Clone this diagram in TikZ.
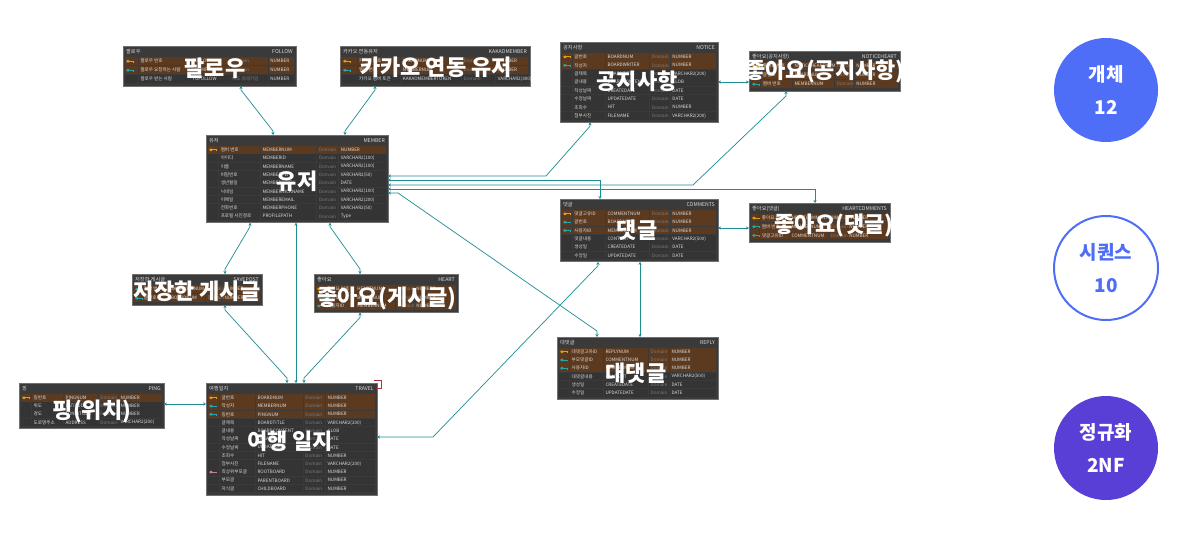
\documentclass[tikz,border=0pt]{standalone}
\usepackage{fontspec}
\setmainfont{Noto Sans CJK KR}
\usetikzlibrary{arrows.meta,calc}

\definecolor{tblbg}{HTML}{3A3A3A}
\definecolor{tblline}{HTML}{707070}
\definecolor{plainrow}{HTML}{343434}
\definecolor{keyrow}{HTML}{5C3A20}
\definecolor{celltxt}{HTML}{DADADA}
\definecolor{domtxt}{HTML}{7C7C7C}
\definecolor{goldkey}{HTML}{D9A31A}
\definecolor{fkkey}{HTML}{22A7B0}
\definecolor{pinkkey}{HTML}{C77FA0}
\definecolor{relteal}{HTML}{1E8C93}
\definecolor{selfred}{HTML}{B03040}
\definecolor{blueA}{HTML}{4F6EF7}
\definecolor{purpleA}{HTML}{5A3FD6}

\tikzset{
  tbl/.style={draw=tblline, fill=tblbg, line width=.8pt, inner sep=0pt, outer sep=0pt, rectangle},
  hdrtxt/.style={text=celltxt, font=\fontsize{5.2}{6}\selectfont, inner sep=0pt},
  celltext/.style={text=celltxt, font=\fontsize{4.6}{5}\selectfont, inner sep=0pt},
  domtext/.style={text=domtxt, font=\fontsize{4.6}{5}\selectfont\itshape, inner sep=0pt},
  biglbl/.style={text=white, font=\fontsize{22}{24}\selectfont\bfseries, inner sep=0pt},
  rel/.style={draw=relteal, line width=.7pt,
    {Stealth[length=3pt,width=3.2pt]}-{Stealth[length=3pt,width=3.2pt]}},
  badge/.style={circle, minimum size=104pt, inner sep=0pt},
  badgetxt/.style={align=center, font=\fontsize{19}{33}\selectfont\bfseries, inner sep=0pt}
}

% column positions as fractions of the table width
\def\ck{.09}\def\cc{.3}\def\cd{.58}\def\ct{.71}

% small key glyph in front of key columns
\newcommand{\keyicon}[1]{%
  \fill[#1] (5,\ym) ellipse (1.9 and 1.5);
  \draw[#1, line width=1pt] (6,\ym) -- (10,\ym) -- ++(0,-1.3);}

% #1 name, #2 left, #3 top, #4 width, #5 rows, #6 row height,
% #7 title, #8 table name, #9 rows icon/key/kor/column/domain/type
\newcommand{\erdtable}[9]{%
  \pgfmathsetmacro\erdh{13+#5*#6}%
  \node[tbl, anchor=north west, minimum width=#4pt, minimum height=\erdh pt] (#1) at (#2,-#3) {};
  \begin{scope}[shift={(#1.north west)}]
    \node[hdrtxt, anchor=west] at (3,-5.5) {#7};
    \node[hdrtxt, anchor=east] at (#4-3,-5.5) {#8};
    \foreach \ric/\rb/\rk/\rc/\rd/\rt [count=\ri] in {#9}{%
      \pgfmathsetmacro\yt{-11-(\ri-1)*#6}%
      \pgfmathsetmacro\ym{\yt-#6/2+0.3}%
      \ifnum\rb=1 \def\rowcol{keyrow}\else\def\rowcol{plainrow}\fi
      \fill[\rowcol] (2,\yt) rectangle (#4-2,\yt-#6+0.7);
      \foreach \f in {\ck,\cc,\cd,\ct}
        \draw[tblbg, line width=.9pt] (\f*#4-2,\yt) -- ++(0,-#6+0.7);
      \ifcase\ric\or\keyicon{goldkey}\or\keyicon{fkkey}\or\keyicon{pinkkey}\fi
      \node[celltext, anchor=west] at (\ck*#4,\ym) {\rk};
      \node[celltext, anchor=west] at (\cc*#4,\ym) {\rc};
      \node[domtext, anchor=west] at (\cd*#4,\ym) {\rd};
      \node[celltext, anchor=west] at (\ct*#4,\ym) {\rt};
    }
  \end{scope}}

\begin{document}
\begin{tikzpicture}[x=1pt,y=1pt]
\fill[white] (0,0) rectangle (1198,-535);
\useasboundingbox (0,0) rectangle (1198,-535);

% ---------- tables ----------
\def\ck{.1}\def\cc{.4}\def\cd{.63}\def\ct{.85}
\erdtable{follow}{123}{46}{173}{3}{9}{팔로우}{FOLLOW}{
  1/1/팔로우 번호/FOLLOWNUM/Domain/NUMBER,
  2/1/팔로우 요청하는 사람/FROMFOLLOW/Domain/NUMBER,
  0/0/팔로우 받는 사람/TOFOLLOW/얘도 외래키임/NUMBER}

\def\ck{.1}\def\cc{.33}\def\cd{.65}\def\ct{.83}
\erdtable{kakao}{340}{46}{190}{3}{9}{카카오 연동유저}{KAKAOMEMBER}{
  1/1/카카오 번호/KAKAONUM/Domain/NUMBER,
  2/1/멤버 번호/MEMBERNUM/Domain/NUMBER,
  0/0/카카오 멤버 토큰/KAKAOMEMBERTOKEN/Domain/VARCHAR2(300)}

\def\ck{.08}\def\cc{.31}\def\cd{.62}\def\ct{.74}
\erdtable{member}{206}{135}{182}{9}{8.3}{유저}{MEMBER}{
  1/1/멤버 번호/MEMBERNUM/Domain/NUMBER,
  0/0/아이디/MEMBERID/Domain/VARCHAR2(100),
  0/0/이름/MEMBERNAME/Domain/VARCHAR2(100),
  0/0/비밀번호/MEMBERPW/Domain/VARCHAR2(50),
  0/0/생년월일/MEMBERBIRTH/Domain/DATE,
  0/0/닉네임/MEMBERNICKNAME/Domain/VARCHAR2(100),
  0/0/이메일/MEMBEREMAIL/Domain/VARCHAR2(200),
  0/0/전화번호/MEMBERPHONE/Domain/VARCHAR2(50),
  0/0/프로필 사진경로/PROFILEPATH/Domain/Type}

\def\ck{.09}\def\cc{.3}\def\cd{.58}\def\ct{.71}
\erdtable{notice}{560}{42}{158}{8}{8.4}{공지사항}{NOTICE}{
  1/1/글번호/BOARDNUM/Domain/NUMBER,
  2/1/작성자/BOARDWRITER/Domain/NUMBER,
  0/0/글제목/BOARDTITLE/Domain/VARCHAR2(200),
  0/0/글내용/BOARDCONTENT/Domain/CLOB,
  0/0/작성날짜/CREATEDATE/Domain/DATE,
  0/0/수정날짜/UPDATEDATE/Domain/DATE,
  0/0/조회수/HIT/Domain/NUMBER,
  0/0/첨부사진/FILENAME/Domain/VARCHAR2(200)}

\erdtable{nheart}{749}{51}{151}{3}{9}{좋아요(공지사항)}{NOTICEHEART}{
  1/1/좋아요 번호/NOTICEHEARTNUM/Domain/NUMBER,
  2/1/글번호/BOARDNUM/Domain/NUMBER,
  2/1/멤버 번호/MEMBERNUM/Domain/NUMBER}

\erdtable{comments}{560}{199}{158}{6}{8.3}{댓글}{COMMENTS}{
  1/1/댓글고유ID/COMMENTNUM/Domain/NUMBER,
  2/1/글번호/BOARDNUM/Domain/NUMBER,
  2/1/사용자ID/MEMBERNUM/Domain/NUMBER,
  0/0/댓글내용/CONTENT/Domain/VARCHAR2(500),
  0/0/생성일/CREATEDATE/Domain/DATE,
  0/0/수정일/UPDATEDATE/Domain/DATE}

\erdtable{heartc}{749}{203}{141}{3}{8.7}{좋아요(댓글)}{HEARTCOMMENTS}{
  1/1/좋아요 번호/HEARTCOMMENTNUM/Domain/NUMBER,
  2/1/멤버 번호/MEMBERNUM/Domain/NUMBER,
  2/1/댓글고유ID/COMMENTNUM/Domain/NUMBER}

\erdtable{savepost}{132}{274}{130}{2}{9}{저장한 게시글}{SAVEPOST}{
  2/1/저장 번호/SAVEPOSTNUM/Domain/NUMBER,
  2/1/글번호/BOARDNUM/Domain/NUMBER}

\erdtable{heart}{314}{274}{144}{3}{8.5}{좋아요}{HEART}{
  1/1/좋아요 번호/HEARTNUM/Domain/NUMBER,
  2/1/글번호/BOARDNUM/Domain/NUMBER,
  2/1/사용자ID/MEMBERNUM/Domain/NUMBER}

\erdtable{reply}{557}{337}{161}{6}{8.2}{대댓글}{REPLY}{
  1/1/대댓글고유ID/REPLYNUM/Domain/NUMBER,
  2/1/부모댓글ID/COMMENTNUM/Domain/NUMBER,
  2/1/사용자ID/MEMBERNUM/Domain/NUMBER,
  0/0/대댓글내용/CONTENT/Domain/VARCHAR2(500),
  0/0/생성일/CREATEDATE/Domain/DATE,
  0/0/수정일/UPDATEDATE/Domain/DATE}

\def\ck{.1}\def\cc{.32}\def\cd{.56}\def\ct{.7}
\erdtable{ping}{19}{383}{145}{4}{8.2}{핑}{PING}{
  1/1/핑번호/PINGNUM/Domain/NUMBER,
  0/0/위도/LATITUDE/Domain/NUMBER,
  0/0/경도/LONGITUDE/Domain/NUMBER,
  0/0/도로명주소/ADDRESS/Domain/VARCHAR2(200)}

\def\ck{.09}\def\cc{.3}\def\cd{.58}\def\ct{.71}
\erdtable{travel}{206}{383}{171}{12}{8.25}{여행일지}{TRAVEL}{
  1/1/글번호/BOARDNUM/Domain/NUMBER,
  2/1/작성자/MEMBERNUM/Domain/NUMBER,
  2/1/핑번호/PINGNUM/Domain/NUMBER,
  0/0/글제목/BOARDTITLE/Domain/VARCHAR2(200),
  0/0/글내용/BOARDCONTENT/Domain/CLOB,
  0/0/작성날짜/CREATEDATE/Domain/DATE,
  0/0/수정날짜/UPDATEDATE/Domain/DATE,
  0/0/조회수/HIT/Domain/NUMBER,
  0/0/첨부사진/FILENAME/Domain/VARCHAR2(200),
  3/0/최상위부모글/ROOTBOARD/Domain/NUMBER,
  0/0/부모글/PARENTBOARD/Domain/NUMBER,
  0/0/자식글/CHILDBOARD/Domain/NUMBER}

% self reference on TRAVEL
\draw[selfred, line width=.7pt] ([xshift=-3pt,yshift=3pt]travel.north east) -- ++(7,0) -- ++(0,-8) -- ++(-5,0);

% ---------- relationships ----------
\coordinate (bNotice) at (546,-176);
\coordinate (bNHeart) at (693,-185);
\coordinate (bTravel) at (433,-437);

\draw[rel] ([xshift=118pt]follow.south west) -- ++(0,-4) -- ([xshift=67pt,yshift=4pt]member.north west) -- ([xshift=67pt]member.north west);
\draw[rel] ([xshift=35pt]kakao.south west) -- ++(0,-4) -- ([xshift=139pt,yshift=4pt]member.north west) -- ([xshift=139pt]member.north west);
\draw[rel] ([yshift=-41pt]member.north east) -- (bNotice) -- ([xshift=30pt,yshift=-4pt]notice.south west) -- ([xshift=30pt]notice.south west);
\draw[rel] ([yshift=-45pt]member.north east) -| ([xshift=40pt]comments.north west);
\draw[rel] ([yshift=-50pt]member.north east) -- (bNHeart) -- ([xshift=37pt,yshift=-5pt]nheart.south west) -- ([xshift=37pt]nheart.south west);
\draw[rel] ([yshift=-54pt]member.north east) -| ([xshift=66pt]heartc.north west);
\draw[rel] ([yshift=-58pt]member.north east) -- ++(10,0) -- ([xshift=40pt,yshift=6pt]reply.north west) -- ([xshift=40pt]reply.north west);

\draw[rel] ([yshift=-40pt]notice.north east) -- ([yshift=-31pt]nheart.north west);
\draw[rel] ([yshift=-29pt]comments.north east) -- ([yshift=-25pt]heartc.north west);
\draw[rel] ([xshift=80pt]comments.south west) -- ([xshift=83pt]reply.north west);
\draw[rel] ([xshift=38pt]comments.south west) -- ++(0,-4) -- (bTravel) -- ([yshift=-54pt]travel.north east);

\draw[rel] ([xshift=44pt]member.south west) -- ++(0,-4) -- ([xshift=93pt,yshift=5pt]savepost.north west) -- ([xshift=93pt]savepost.north west);
\draw[rel] ([xshift=124pt]member.south west) -- ++(0,-4) -- ([xshift=46pt,yshift=5pt]heart.north west) -- ([xshift=46pt]heart.north west);
\draw[rel] ([xshift=90pt]member.south west) -- ([xshift=90pt]travel.north west);
\draw[rel] ([xshift=93pt]savepost.south west) -- ++(0,-5) -- ([xshift=81pt,yshift=5pt]travel.north west) -- ([xshift=81pt]travel.north west);
\draw[rel] ([xshift=46pt]heart.south west) -- ++(0,-5) -- ([xshift=98pt,yshift=5pt]travel.north west) -- ([xshift=98pt]travel.north west);
\draw[rel] ([yshift=-21pt]ping.north east) -- ([yshift=-21pt]travel.north west);

% ---------- overlay labels ----------
\node[biglbl] (lFollow) at (215,-68) {팔로우};
\node[biglbl] (lKakao) at (436,-67) {카카오 연동 유저};
\node[biglbl] (lMember) at (297,-181) {유저};
\node[biglbl] (lNotice) at (637,-81) {공지사항};
\node[biglbl] (lNHeart) at (825,-71) {좋아요(공지사항)};
\node[biglbl] (lComments) at (637,-230) {댓글};
\node[biglbl] (lHeartC) at (834,-225) {좋아요(댓글)};
\node[biglbl] (lSave) at (197,-291) {저장한 게시글};
\node[biglbl] (lHeart) at (387,-298) {좋아요(게시글)};
\node[biglbl] (lReply) at (636,-373) {대댓글};
\node[biglbl] (lPing) at (92,-411) {핑(위치)};
\node[biglbl] (lTravel) at (290,-441) {여행 일지};

% ---------- summary badges ----------
\node[badge, fill=blueA] (bEntity) at (1106,-90) {};
\node[badgetxt, text=white] at (bEntity) {개체\\12};
\node[badge, fill=white, draw=blueA, line width=2pt] (bSeq) at (1106,-268) {};
\node[badgetxt, text=blueA] at (bSeq) {시퀀스\\10};
\node[badge, fill=purpleA] (bNorm) at (1106,-448) {};
\node[badgetxt, text=white] at (bNorm) {정규화\\2NF};
\end{tikzpicture}
\end{document}
